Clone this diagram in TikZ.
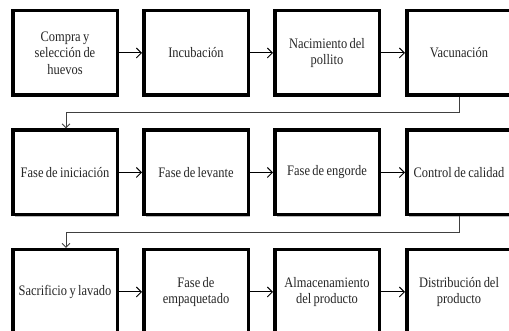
\documentclass[tikz,border=0pt]{standalone}
\usepackage{fontspec}
\setmainfont{Liberation Serif}
\newfontfamily\condfont[FakeStretch=0.86]{Liberation Serif}
\usetikzlibrary{arrows.meta,shadows}
\begin{document}
\begin{tikzpicture}[x=1pt,y=1pt,
  procbox/.style={draw=black,line width=3.5pt,fill=white,minimum width=104.5pt,minimum height=84.5pt,
    align=center,text width=98pt,font=\condfont\fontsize{14.5}{16.7}\selectfont,inner sep=0pt,text=black!85,
    execute at begin node={\spaceskip=2.4pt\relax},
    drop shadow={shadow xshift=2pt,shadow yshift=-2pt,fill=black!45,opacity=0.6}},
  flow/.style={line width=1pt,-{Straight Barb[length=5pt,width=10pt,line width=0.9pt]}},
  back/.style={draw=black!75,line width=1pt,-{Straight Barb[length=4pt,width=8pt,line width=0.9pt]}}]
\useasboundingbox (0,0) rectangle (509,331);
\fill[white] (0,0) rectangle (509,331);
% row 1
\node[procbox] (a1) at (65,278) {Compra y\\selección de\\huevos};
\node[procbox] (a2) at (196,278) {Incubación};
\node[procbox] (a3) at (327,278) {Nacimiento del\\pollito};
\node[procbox] (a4) at (459,278) {Vacunación};
% row 2
\node[procbox] (b1) at (65,158.5) {Fase de iniciación};
\node[procbox] (b2) at (196,158.5) {Fase de levante};
\node[procbox] (b3) at (327,158.5) {Fase de engorde};
\node[procbox] (b4) at (459,158.5) {Control de calidad};
% row 3
\node[procbox] (c1) at (65,39) {Sacrificio y lavado};
\node[procbox] (c2) at (196,39) {Fase de\\empaquetado};
\node[procbox] (c3) at (327,39) {Almacenamiento\\del producto};
\node[procbox] (c4) at (459,39) {Distribución del\\producto};
% horizontal arrows
\foreach \r in {a,b,c}{
  \draw[flow] (\r1.east) -- (\r2.west);
  \draw[flow] (\r2.east) -- (\r3.west);
  \draw[flow] (\r3.east) -- (\r4.west);
}
% row transitions
\coordinate (t1) at (459,218);
\coordinate (t2) at (66,218);
\draw[back] (a4.south) -- (t1) -- (t2) -- (t2 |- b1.north);
\coordinate (u1) at (459,98);
\coordinate (u2) at (66,98);
\draw[back] (b4.south) -- (u1) -- (u2) -- (u2 |- c1.north);
\end{tikzpicture}
\end{document}
